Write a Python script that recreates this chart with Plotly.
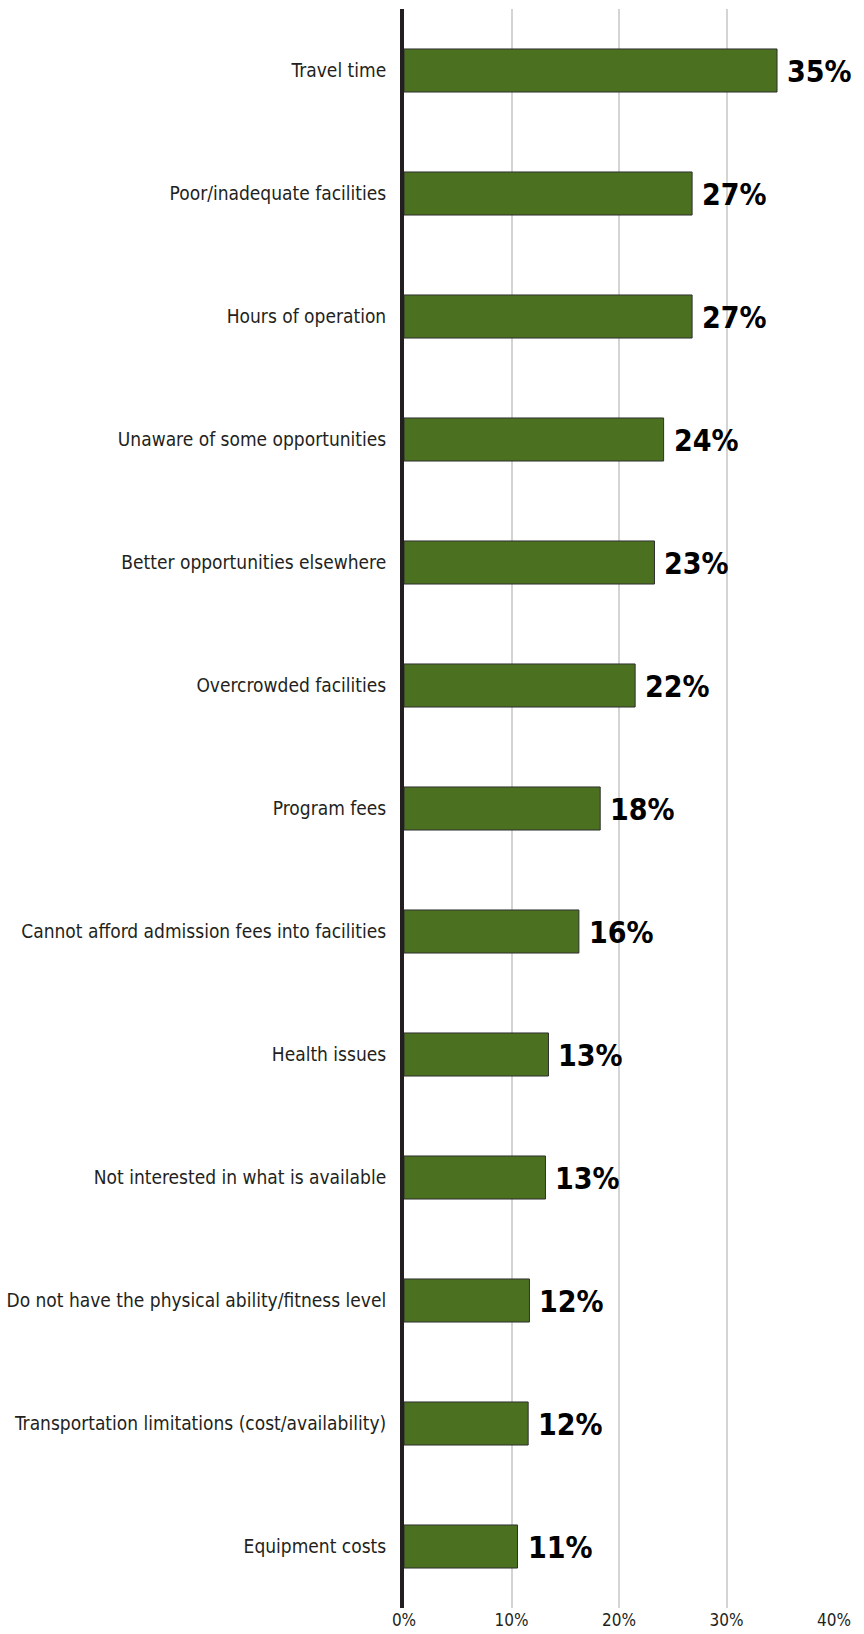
import plotly.graph_objects as go

categories = [
    "Travel time",
    "Poor/inadequate facilities",
    "Hours of operation",
    "Unaware of some opportunities",
    "Better opportunities elsewhere",
    "Overcrowded facilities",
    "Program fees",
    "Cannot afford admission fees into facilities",
    "Health issues",
    "Not interested in what is available",
    "Do not have the physical ability/fitness level",
    "Transportation limitations (cost/availability)",
    "Equipment costs",
]
values = [34.7, 26.8, 26.8, 24.15, 23.3, 21.5, 18.25, 16.27, 13.44, 13.16, 11.67, 11.55, 10.56]
value_labels = ["35%", "27%", "27%", "24%", "23%", "22%", "18%", "16%", "13%", "13%", "12%", "12%", "11%"]
x_ticks = [0, 10, 20, 30, 40]
x_tick_labels = ["0%", "10%", "20%", "30%", "40%"]

FONT = "DejaVu Sans Condensed, Roboto, sans-serif"

fig = go.Figure()
fig.add_trace(go.Bar(
    x=values,
    y=categories,
    orientation="h",
    marker=dict(color="#4b7120", line=dict(color="#2f2f2f", width=1)),
    width=0.35,
    hoverinfo="skip",
))

for v, c, t in zip(values, categories, value_labels):
    fig.add_annotation(
        x=v, y=c, text=f"<b>{t}</b>", showarrow=False,
        xanchor="left", yanchor="middle", xshift=8, yshift=-1,
        font=dict(family=FONT, size=30, color="#000000"),
    )

fig.update_layout(
    width=864, height=1634,
    margin=dict(l=404, r=30, t=9, b=26, autoexpand=False),
    plot_bgcolor="white", paper_bgcolor="white",
    showlegend=False,
    font=dict(family=FONT, color="#231f20"),
)
fig.update_xaxes(
    range=[0, 40], tickvals=x_ticks, ticktext=x_tick_labels,
    showgrid=True, gridcolor="#d4d4d4", gridwidth=2,
    zeroline=False, showline=False, ticks="",
    tickfont=dict(family=FONT, size=17, color="#231f20"),
    ticklabelstandoff=0,
    automargin=False,
)
fig.update_yaxes(
    categoryorder="array", categoryarray=categories,
    range=[12.5, -0.5],
    showgrid=False, zeroline=False,
    showline=True, linecolor="#231f20", linewidth=4,
    ticks="", ticklabelstandoff=10,
    tickfont=dict(family=FONT, size=19, color="#231f20"),
    automargin=False,
)

fig.write_html("out.html")
